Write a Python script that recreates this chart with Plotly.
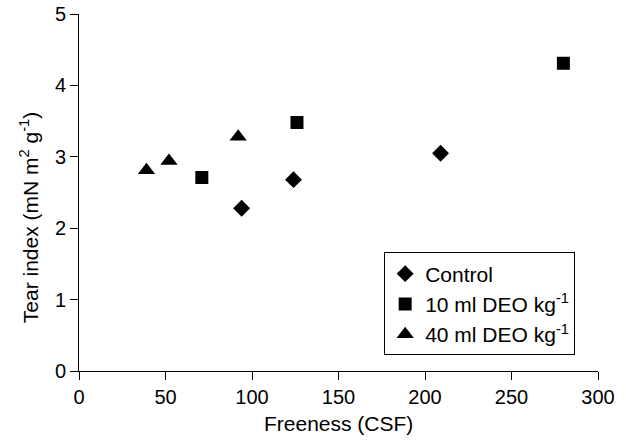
import plotly.graph_objects as go

control_x = [94, 124, 209]
control_y = [2.28, 2.68, 3.05]
deo10_x = [71, 126, 280]
deo10_y = [2.71, 3.48, 4.31]
deo40_x = [39, 52, 92]
deo40_y = [2.81, 2.94, 3.28]

names = ["Control", "10 ml DEO kg<sup>-1</sup>", "40 ml DEO kg<sup>-1</sup>"]
x_title = "Freeness (CSF)"
y_title = "Tear index (mN m<sup>2</sup> g<sup>-1</sup>)"

fig = go.Figure()
fig.add_trace(go.Scatter(x=control_x, y=control_y, mode="markers", name=names[0],
                         marker=dict(symbol="diamond", size=13, color="black")))
fig.add_trace(go.Scatter(x=deo10_x, y=deo10_y, mode="markers", name=names[1],
                         marker=dict(symbol="square", size=13, color="black")))
fig.add_trace(go.Scatter(x=deo40_x, y=deo40_y, mode="markers", name=names[2],
                         marker=dict(symbol="triangle-up", size=15, color="black")))

font = "Liberation Sans, Arial, sans-serif"
fig.update_layout(
    width=626, height=441,
    margin=dict(l=79, r=28, t=14, b=70, autoexpand=False),
    paper_bgcolor="white", plot_bgcolor="white",
    font=dict(family=font, size=20, color="black"),
    showlegend=True,
    legend=dict(x=0.588, y=0.332, xanchor="left", yanchor="top",
                bordercolor="black", borderwidth=1, bgcolor="white",
                font=dict(size=21), tracegroupgap=0, itemsizing="trace"),
    xaxis=dict(range=[0, 300], dtick=50, tick0=0, showline=True, linecolor="black",
               linewidth=1, ticks="outside", ticklen=8, tickcolor="black",
               showgrid=False, zeroline=False, tickfont=dict(size=20)),
    yaxis=dict(range=[0, 5], dtick=1, tick0=0, showline=True, linecolor="black",
               linewidth=1, ticks="outside", ticklen=8, tickcolor="black",
               showgrid=False, zeroline=False, tickfont=dict(size=20)),
    annotations=[
        dict(text=x_title, xref="paper", yref="paper", x=0.5, y=-0.148,
             xanchor="center", yanchor="middle", showarrow=False,
             font=dict(size=21)),
        dict(text=y_title, xref="paper", yref="paper", x=-0.095, y=0.43,
             xanchor="center", yanchor="middle", showarrow=False, textangle=-90,
             font=dict(size=21)),
    ],
)

fig.write_html("out.html")
